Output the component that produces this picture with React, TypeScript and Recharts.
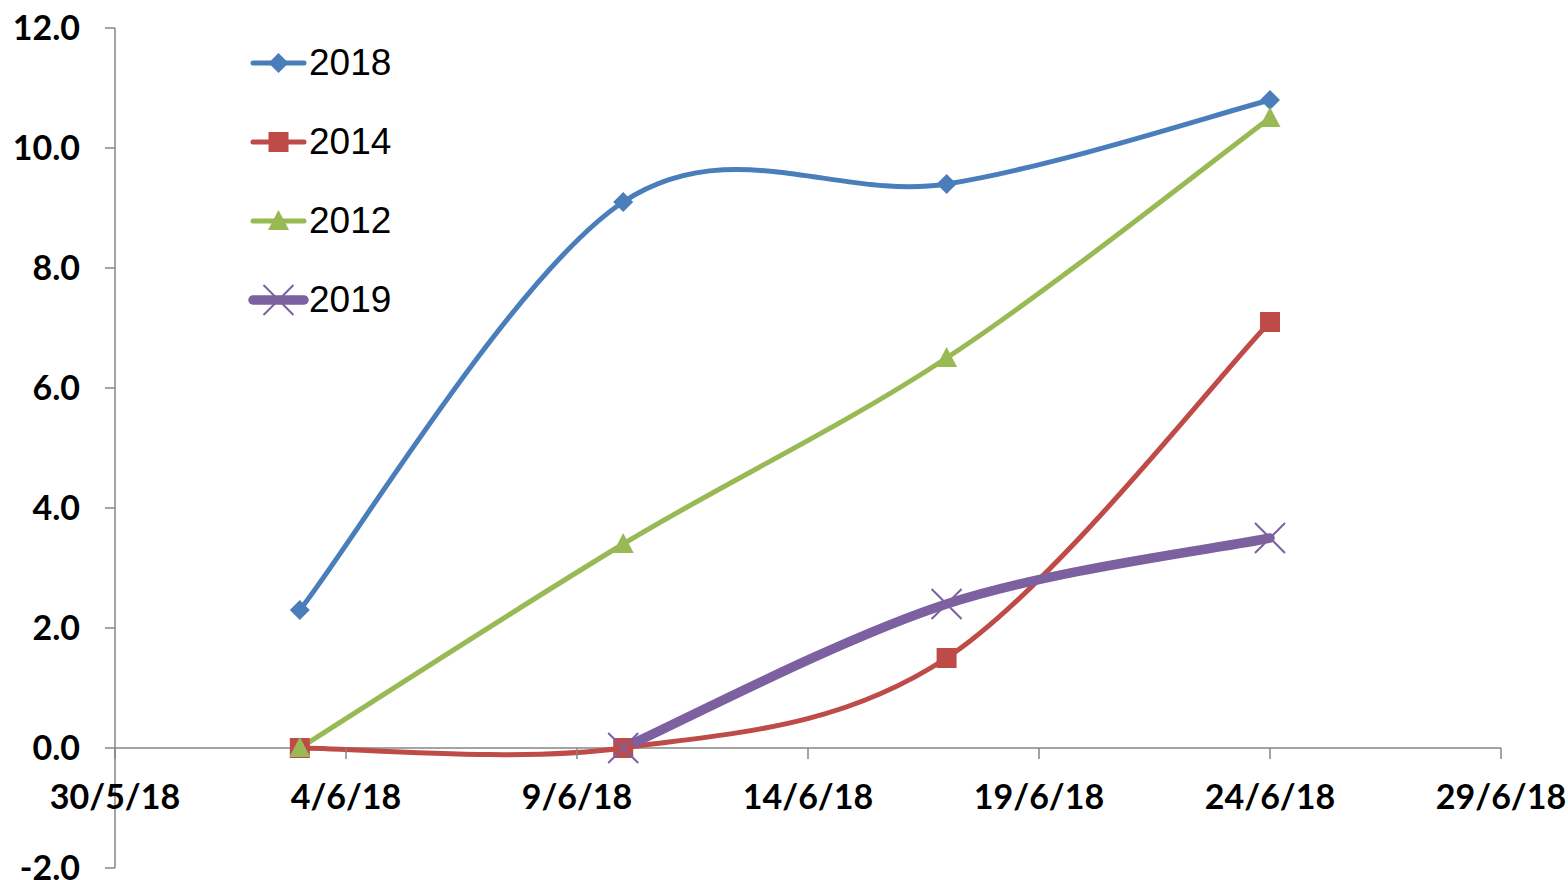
import React from 'react';
import { Legend, Line, LineChart, ReferenceLine, XAxis, YAxis } from 'recharts';

// x positions are days counted from 30/5/18
const tickDays = [0, 5, 10, 15, 20, 25, 30];
const tickLabels = ['30/5/18', '4/6/18', '9/6/18', '14/6/18', '19/6/18', '24/6/18', '29/6/18'];
const pointDays = [4, 11, 18, 25];
const pointDates = ['3/6/18', '10/6/18', '17/6/18', '24/6/18'];
const values2018 = [2.3, 9.1, 9.4, 10.8];
const values2014 = [0, 0, 1.5, 7.1];
const values2012 = [0, 3.4, 6.5, 10.5];
const values2019 = [null, 0, 2.4, 3.5];
const yTicks = [-2, 0, 2, 4, 6, 8, 10, 12];
const yDomain = [-2, 12];

const series = [
  { key: 'y2018', name: '2018', color: '#4A7EBB', width: 5, marker: 'diamond' },
  { key: 'y2014', name: '2014', color: '#BE4B48', width: 5, marker: 'square' },
  { key: 'y2012', name: '2012', color: '#98B954', width: 5, marker: 'triangle' },
  { key: 'y2019', name: '2019', color: '#7D60A0', width: 9.5, marker: 'x' },
];

const data = pointDays.map((day, i) => ({
  day,
  date: pointDates[i],
  y2018: values2018[i],
  y2014: values2014[i],
  y2012: values2012[i],
  y2019: values2019[i],
}));

const W = 1568;
const H = 880;
const MARGIN = { top: 28, right: 67, bottom: 11, left: 0 };
const X_AXIS_H = 1;
const PLOT_H = H - MARGIN.top - MARGIN.bottom - X_AXIS_H;
// the date axis crosses the value axis at 0
const ZERO_OFFSET = (PLOT_H * (0 - yDomain[0])) / (yDomain[1] - yDomain[0]);
const AXIS = '#868686';
const TICK_FONT = 'Lato, "Open Sans", sans-serif';

// Excel-like smoothing (Catmull-Rom through the points)
const excelCurve = (context: any) => {
  let pts: number[][] = [];
  return {
    areaStart() {},
    areaEnd() {},
    lineStart() {
      pts = [];
    },
    point(x: number, y: number) {
      pts.push([+x, +y]);
    },
    lineEnd() {
      if (!pts.length) return;
      context.moveTo(pts[0][0], pts[0][1]);
      if (pts.length === 1) {
        context.lineTo(pts[0][0], pts[0][1]);
        return;
      }
      for (let i = 0; i < pts.length - 1; i++) {
        const p0 = pts[Math.max(i - 1, 0)];
        const p1 = pts[i];
        const p2 = pts[i + 1];
        const p3 = pts[Math.min(i + 2, pts.length - 1)];
        context.bezierCurveTo(
          p1[0] + (p2[0] - p0[0]) / 6,
          p1[1] + (p2[1] - p0[1]) / 6,
          p2[0] - (p3[0] - p1[0]) / 6,
          p2[1] - (p3[1] - p1[1]) / 6,
          p2[0],
          p2[1],
        );
      }
    },
  };
};

function renderMarker(shape: string, cx: number, cy: number, color: string, key?: string) {
  if (cx == null || cy == null || isNaN(cx) || isNaN(cy)) return <g key={key} />;
  if (shape === 'diamond') {
    const r = 10;
    return (
      <polygon key={key} points={`${cx},${cy - r} ${cx + r},${cy} ${cx},${cy + r} ${cx - r},${cy}`} fill={color} />
    );
  }
  if (shape === 'square') {
    return <rect key={key} x={cx - 10} y={cy - 10} width={20} height={20} fill={color} />;
  }
  if (shape === 'triangle') {
    return (
      <polygon key={key} points={`${cx},${cy - 11} ${cx + 10.5},${cy + 9} ${cx - 10.5},${cy + 9}`} fill={color} />
    );
  }
  const r = 15;
  return (
    <g key={key} stroke={color} strokeWidth={2}>
      <line x1={cx - r} y1={cy - r} x2={cx + r} y2={cy + r} />
      <line x1={cx - r} y1={cy + r} x2={cx + r} y2={cy - r} />
    </g>
  );
}

function XTick({ x, y, payload }: any) {
  const y0 = y - ZERO_OFFSET;
  const label = tickLabels[tickDays.indexOf(payload.value)];
  return (
    <g>
      <line x1={x} x2={x} y1={y0} y2={y0 + 11} stroke={AXIS} strokeWidth={1.5} />
      <text
        x={x}
        y={y0 + 52}
        textAnchor="middle"
        dominantBaseline="middle"
        fill="#000"
        fontFamily={TICK_FONT}
        fontWeight="bold"
        fontSize={34}
      >
        {label}
      </text>
    </g>
  );
}

function LegendContent() {
  return (
    <div style={{ fontFamily: '"Liberation Sans", Arial, sans-serif', fontSize: 37, color: '#000' }}>
      {series.map((s) => (
        <div key={s.key} style={{ display: 'flex', alignItems: 'center', height: 79 }}>
          <svg width={61} height={40} style={{ display: 'block' }}>
            <line x1={5} x2={56} y1={20} y2={20} stroke={s.color} strokeWidth={s.width} strokeLinecap="round" />
            {renderMarker(s.marker, 30.5, 20, s.color)}
          </svg>
          <span style={{ lineHeight: 1 }}>{s.name}</span>
        </div>
      ))}
    </div>
  );
}

export default function App() {
  return (
    <div style={{ position: 'absolute', left: 0, top: 0, background: '#fff' }}>
      <LineChart width={W} height={H} data={data} margin={MARGIN}>
        <XAxis
          dataKey="day"
          type="number"
          domain={[0, 30]}
          ticks={tickDays}
          interval={0}
          axisLine={false}
          tickLine={false}
          tickSize={0}
          tickMargin={0}
          height={X_AXIS_H}
          tick={<XTick />}
        />
        <YAxis
          type="number"
          domain={yDomain}
          ticks={yTicks}
          interval={0}
          width={115}
          tickFormatter={(v: number) => v.toFixed(1)}
          axisLine={{ stroke: AXIS, strokeWidth: 1.5 }}
          tickLine={{ stroke: AXIS, strokeWidth: 1.5 }}
          tickSize={10}
          tickMargin={25}
          tick={{ fill: '#000', fontSize: 34, fontWeight: 'bold', fontFamily: TICK_FONT }}
        />
        <ReferenceLine y={0} stroke={AXIS} strokeWidth={1.5} />
        <Legend
          layout="vertical"
          align="center"
          verticalAlign="middle"
          content={<LegendContent />}
          wrapperStyle={{ left: 248, top: 23, width: 'auto', height: 'auto' }}
        />
        {series.map((s) => (
          <Line
            key={s.key}
            dataKey={s.key}
            name={s.name}
            type={excelCurve as any}
            stroke={s.color}
            strokeWidth={s.width}
            strokeLinecap="round"
            strokeLinejoin="round"
            connectNulls={false}
            isAnimationActive={false}
            activeDot={false}
            dot={(p: any) => renderMarker(s.marker, p.cx, p.cy, s.color, `${s.key}-${p.index}`)}
          />
        ))}
      </LineChart>
    </div>
  );
}
